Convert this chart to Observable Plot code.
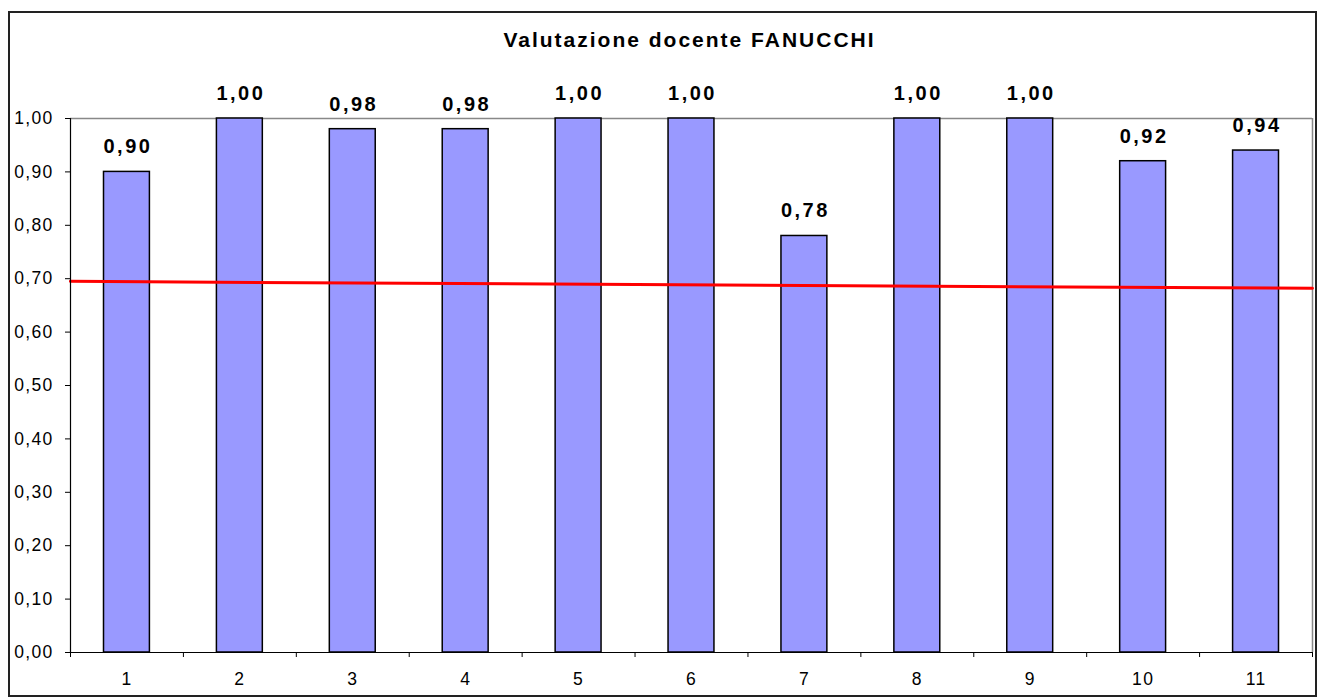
<!DOCTYPE html>
<html>
<head>
<meta charset="utf-8">
<script src="https://cdn.jsdelivr.net/npm/d3@7"></script>
<script src="https://cdn.jsdelivr.net/npm/@observablehq/plot@0.6"></script>
<style>
  html, body { margin: 0; padding: 0; background: #fff; }
  #wrap { position: relative; width: 1321px; height: 700px; overflow: hidden; }
  #frame { position: absolute; left: 8px; top: 11px; width: 1309px; height: 686px; border: 2px solid #222; box-sizing: border-box; pointer-events: none; }
  svg text { letter-spacing: 1.3px; }
  .lbl text { letter-spacing: 2.5px; }
  .ttl text { letter-spacing: 2px; }
</style>
</head>
<body>
<div id="wrap"><div id="frame"></div></div>
<script>
const categories = [1, 2, 3, 4, 5, 6, 7, 8, 9, 10, 11];
const values = [0.90, 1.00, 0.98, 0.98, 1.00, 1.00, 0.78, 1.00, 1.00, 0.92, 0.94];
const trendX = [0.5, 11.5];
const trendY = [0.695, 0.682];
const yTicks = [0, 0.1, 0.2, 0.3, 0.4, 0.5, 0.6, 0.7, 0.8, 0.9, 1.0];
const title = "Valutazione docente FANUCCHI";

const it = d3.formatLocale({decimal: ",", thousands: ".", grouping: [3], currency: ["", "€"]});
const fmt = it.format(".2f");

const data = categories.map((c, i) => ({cat: c, value: values[i]}));
const trend = trendX.map((x, i) => ({x, y: trendY[i]}));
const bounds = [...categories.map(c => c - 0.5), categories[categories.length - 1] + 0.5];

const chart = Plot.plot({
  width: 1321,
  height: 700,
  marginLeft: 70,
  marginRight: 9,
  marginTop: 118,
  marginBottom: 48,
  style: {fontFamily: "'Liberation Sans', Arial, sans-serif", fontSize: "17px", color: "#000", background: "transparent"},
  x: {type: "linear", domain: [0.5, 11.5]},
  y: {domain: [0, 1]},
  marks: [
    Plot.axisY({ticks: yTicks, tickFormat: fmt, tickSize: 5, tickPadding: 12, label: null, stroke: "#000", fontSize: 17.5}),
    Plot.axisX({ticks: bounds, tickFormat: () => "", tickSize: 5, label: null, stroke: "#000"}),
    Plot.axisX({ticks: categories, tickFormat: d => String(d), tickSize: 0, tickPadding: 20, label: null, fontSize: 17.5}),
    Plot.ruleY([1], {stroke: "#888", strokeWidth: 1.5}),
    Plot.ruleX([11.5], {y1: 0, y2: 1, stroke: "#888", strokeWidth: 1.5}),
    Plot.rectY(data, {
      x1: d => d.cat - 0.5, x2: d => d.cat + 0.5, y: "value",
      insetLeft: 33.5, insetRight: 33.5,
      fill: "#9999ff", stroke: "#000", strokeWidth: 1.5
    }),
    Plot.line(trend, {x: "x", y: "y", stroke: "#ff0000", strokeWidth: 3}),
    Plot.ruleX([0.5], {y1: 0, y2: 1, stroke: "#000", strokeWidth: 1.2}),
    Plot.ruleY([0], {stroke: "#000", strokeWidth: 1.2}),
    Plot.text(data, {
      x: "cat", y: "value", text: d => fmt(d.value), dy: -25, dx: 1,
      fontWeight: "bold", fontSize: 20, fill: "#000", className: "lbl"
    }),
    Plot.text([title], {
      frameAnchor: "top", text: d => d, dy: -86, dx: -2,
      fontWeight: "bold", fontSize: 21, fill: "#000", className: "ttl"
    })
  ]
});
document.getElementById("wrap").prepend(chart);
</script>
</body>
</html>
